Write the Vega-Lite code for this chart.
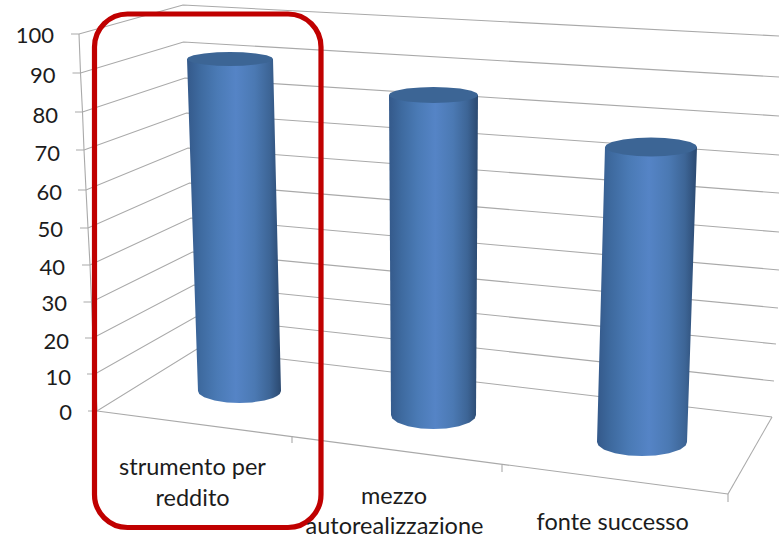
{"$schema":"https://vega.github.io/schema/vega-lite/v6.json","width":779,"height":535,"autosize":{"type":"none"},"padding":0,"background":"white","view":{"stroke":null},
"datasets":{
"walls":[
{"s":"100","x":71,"y":99.98},{"s":"100","x":79,"y":99.98},{"s":"100","x":183,"y":107.67},{"s":"100","x":779,"y":99.44},
{"s":"90","x":72.5,"y":89.62},{"s":"90","x":80.5,"y":89.62},{"s":"90","x":183.5,"y":97.85},{"s":"90","x":779,"y":88.56},
{"s":"80","x":75,"y":79.27},{"s":"80","x":82.5,"y":79.27},{"s":"80","x":185,"y":88.3},{"s":"80","x":779,"y":78.21},
{"s":"70","x":76,"y":69.19},{"s":"70","x":84,"y":69.19},{"s":"70","x":186.5,"y":79.01},{"s":"70","x":779,"y":67.86},
{"s":"60","x":78,"y":58.57},{"s":"60","x":86,"y":58.57},{"s":"60","x":188,"y":69.72},{"s":"60","x":779,"y":57.77},
{"s":"50","x":80,"y":48.48},{"s":"50","x":88,"y":48.48},{"s":"50","x":189.5,"y":60.43},{"s":"50","x":779,"y":47.42},
{"s":"40","x":82,"y":38.66},{"s":"40","x":90,"y":38.66},{"s":"40","x":191,"y":51.14},{"s":"40","x":779,"y":37.34},
{"s":"30","x":83.5,"y":28.84},{"s":"30","x":91.5,"y":28.84},{"s":"30","x":192.5,"y":42.11},{"s":"30","x":778,"y":27.25},
{"s":"20","x":85,"y":19.29},{"s":"20","x":93,"y":19.29},{"s":"20","x":194,"y":33.36},{"s":"20","x":776,"y":17.69},
{"s":"10","x":87,"y":9.73},{"s":"10","x":95,"y":9.73},{"s":"10","x":195.5,"y":24.86},{"s":"10","x":774,"y":7.87},
{"s":"0","x":88,"y":-0.09},{"s":"0","x":97,"y":-0.09},{"s":"0","x":197,"y":16.37},{"s":"0","x":772,"y":-1.68},
{"s":"edge","x":79,"y":99.98},{"s":"edge","x":80.5,"y":89.62},{"s":"edge","x":82.5,"y":79.27},{"s":"edge","x":84,"y":69.19},{"s":"edge","x":86,"y":58.57},{"s":"edge","x":88,"y":48.48},{"s":"edge","x":90,"y":38.66},{"s":"edge","x":91.5,"y":28.84},{"s":"edge","x":93,"y":19.29},{"s":"edge","x":95,"y":9.73},{"s":"edge","x":97,"y":-0.09},
{"s":"front","x":97,"y":-0.09},{"s":"front","x":728,"y":-22.12},
{"s":"side","x":728,"y":-22.12},{"s":"side","x":772,"y":-1.68},
{"s":"t1","x":292,"y":-6.72},{"s":"t1","x":292,"y":-8.58},
{"s":"t2","x":502,"y":-14.29},{"s":"t2","x":502,"y":-16.28},
{"s":"t3","x":728,"y":-22.12},{"s":"t3","x":728,"y":-24.24}
],
"bodies":[
{"b":"strumento per reddito","x":187,"y":93.34,"y2":93.34},{"b":"strumento per reddito","x":198,"y":93.34,"y2":5.22},{"b":"strumento per reddito","x":199.25,"y":93.34,"y2":4.45},{"b":"strumento per reddito","x":204.2,"y":93.34,"y2":3.55},{"b":"strumento per reddito","x":214.6,"y":93.34,"y2":2.67},{"b":"strumento per reddito","x":227,"y":93.34,"y2":2.2},{"b":"strumento per reddito","x":239.5,"y":93.34,"y2":2.04},{"b":"strumento per reddito","x":252,"y":93.34,"y2":2.2},{"b":"strumento per reddito","x":264.4,"y":93.34,"y2":2.67},{"b":"strumento per reddito","x":273,"y":93.34,"y2":3.34},{"b":"strumento per reddito","x":277,"y":49.28,"y2":3.87},{"b":"strumento per reddito","x":279.75,"y":19.02,"y2":4.45},{"b":"strumento per reddito","x":281,"y":5.22,"y2":5.22},
{"b":"mezzo autorealizzazione","x":389,"y":83.79,"y2":83.79},{"b":"mezzo autorealizzazione","x":391,"y":83.79,"y2":-1.15},{"b":"mezzo autorealizzazione","x":392.3,"y":83.79,"y2":-2.05},{"b":"mezzo autorealizzazione","x":397.4,"y":83.79,"y2":-3.11},{"b":"mezzo autorealizzazione","x":408,"y":83.79,"y2":-4.12},{"b":"mezzo autorealizzazione","x":420.8,"y":83.79,"y2":-4.71},{"b":"mezzo autorealizzazione","x":433.5,"y":83.79,"y2":-4.87},{"b":"mezzo autorealizzazione","x":446.2,"y":83.79,"y2":-4.71},{"b":"mezzo autorealizzazione","x":459,"y":83.79,"y2":-4.12},{"b":"mezzo autorealizzazione","x":469.6,"y":83.79,"y2":-3.11},{"b":"mezzo autorealizzazione","x":474.7,"y":83.79,"y2":-2.05},{"b":"mezzo autorealizzazione","x":476,"y":83.79,"y2":-1.15},{"b":"mezzo autorealizzazione","x":478,"y":83.79,"y2":83.79},
{"b":"fonte successo","x":597,"y":-8.32,"y2":-8.32},{"b":"fonte successo","x":598.4,"y":5.38,"y2":-9.22},{"b":"fonte successo","x":603.8,"y":58.24,"y2":-10.28},{"b":"fonte successo","x":605,"y":69.98,"y2":-10.44},{"b":"fonte successo","x":615,"y":69.98,"y2":-11.29},{"b":"fonte successo","x":628.5,"y":69.98,"y2":-11.87},{"b":"fonte successo","x":642,"y":69.98,"y2":-12.03},{"b":"fonte successo","x":655.5,"y":69.98,"y2":-11.87},{"b":"fonte successo","x":669,"y":69.98,"y2":-11.29},{"b":"fonte successo","x":680.3,"y":69.98,"y2":-10.28},{"b":"fonte successo","x":685.7,"y":69.98,"y2":-9.22},{"b":"fonte successo","x":687,"y":69.98,"y2":-8.32},{"b":"fonte successo","x":697,"y":69.98,"y2":69.98}
],
"caps":[
{"b":"strumento per reddito","x":187,"y":93.34,"y2":93.34},{"b":"strumento per reddito","x":188.3,"y":93.79,"y2":92.89},{"b":"strumento per reddito","x":193.5,"y":94.32,"y2":92.36},{"b":"strumento per reddito","x":204.2,"y":94.83,"y2":91.85},{"b":"strumento per reddito","x":217.1,"y":95.12,"y2":91.56},{"b":"strumento per reddito","x":230,"y":95.2,"y2":91.48},{"b":"strumento per reddito","x":242.9,"y":95.12,"y2":91.56},{"b":"strumento per reddito","x":255.8,"y":94.83,"y2":91.85},{"b":"strumento per reddito","x":266.6,"y":94.32,"y2":92.36},{"b":"strumento per reddito","x":271.7,"y":93.79,"y2":92.89},{"b":"strumento per reddito","x":273,"y":93.34,"y2":93.34},
{"b":"mezzo autorealizzazione","x":389,"y":83.79,"y2":83.79},{"b":"mezzo autorealizzazione","x":390.3,"y":84.29,"y2":83.28},{"b":"mezzo autorealizzazione","x":395.7,"y":84.9,"y2":82.67},{"b":"mezzo autorealizzazione","x":406.8,"y":85.48,"y2":82.09},{"b":"mezzo autorealizzazione","x":420.2,"y":85.8,"y2":81.77},{"b":"mezzo autorealizzazione","x":433.5,"y":85.91,"y2":81.66},{"b":"mezzo autorealizzazione","x":446.9,"y":85.8,"y2":81.77},{"b":"mezzo autorealizzazione","x":460.2,"y":85.48,"y2":82.09},{"b":"mezzo autorealizzazione","x":471.3,"y":84.9,"y2":82.67},{"b":"mezzo autorealizzazione","x":476.7,"y":84.29,"y2":83.28},{"b":"mezzo autorealizzazione","x":478,"y":83.79,"y2":83.79},
{"b":"fonte successo","x":605,"y":69.98,"y2":69.98},{"b":"fonte successo","x":606.4,"y":70.59,"y2":69.37},{"b":"fonte successo","x":611.9,"y":71.31,"y2":68.66},{"b":"fonte successo","x":623.4,"y":72.0,"y2":67.97},{"b":"fonte successo","x":637.2,"y":72.4,"y2":67.57},{"b":"fonte successo","x":651,"y":72.5,"y2":67.46},{"b":"fonte successo","x":664.8,"y":72.4,"y2":67.57},{"b":"fonte successo","x":678.6,"y":72.0,"y2":67.97},{"b":"fonte successo","x":690.1,"y":71.31,"y2":68.66},{"b":"fonte successo","x":695.6,"y":70.59,"y2":69.37},{"b":"fonte successo","x":697,"y":69.98,"y2":69.98}
],
"ticklabels":[
{"t":"100","x":54,"y":99.71},{"t":"90","x":55.5,"y":89.09},{"t":"80","x":58,"y":78.48},{"t":"70","x":60,"y":68.39},{"t":"60","x":62,"y":58.04},{"t":"50","x":63,"y":48.22},{"t":"40","x":65,"y":38.13},{"t":"30","x":67,"y":28.58},{"t":"20","x":69,"y":18.49},{"t":"10","x":71,"y":8.94},{"t":"0","x":72,"y":-0.35}
],
"catlabels":[
{"t":"strumento per","x":192.5,"y":-14.95},{"t":"reddito","x":192.5,"y":-23.18},{"t":"mezzo","x":394,"y":-22.65},{"t":"autorealizzazione","x":394.5,"y":-30.61},{"t":"fonte successo","x":612.7,"y":-29.55}
]},
"encoding":{
"x":{"field":"x","type":"quantitative","scale":{"domain":[0,779],"nice":false,"zero":false},"axis":null},
"y":{"field":"y","type":"quantitative","scale":{"domain":[-33,109],"nice":false,"zero":false},"axis":null}
},
"layer":[
{"data":{"name":"walls"},"mark":{"type":"line","color":"#a9a9a9","strokeWidth":1.1,"clip":true},"encoding":{"detail":{"field":"s"}}},
{"data":{"name":"bodies"},"mark":{"type":"area","line":false,"color":{"gradient":"linear","x1":0,"y1":0,"x2":1,"y2":0,"stops":[{"offset":0,"color":"#34598a"},{"offset":0.14,"color":"#3e6a9f"},{"offset":0.32,"color":"#4a7ab5"},{"offset":0.52,"color":"#5584c6"},{"offset":0.72,"color":"#4b79b3"},{"offset":0.88,"color":"#3d6596"},{"offset":1,"color":"#2b4970"}]}},"encoding":{"detail":{"field":"b"},"y2":{"field":"y2"}}},
{"data":{"name":"caps"},"mark":{"type":"area","color":"#3c6595"},"encoding":{"detail":{"field":"b"},"y2":{"field":"y2"}}},
{"data":{"values":[{"x":94.5,"x2":321,"y":105.28,"y2":-31.01}]},"mark":{"type":"rect","filled":false,"stroke":"#c00000","strokeWidth":5.2,"cornerRadius":33},"encoding":{"x2":{"field":"x2"},"y2":{"field":"y2"}}},
{"data":{"name":"ticklabels"},"mark":{"type":"text","align":"right","baseline":"middle","dy":1,"font":"Lato","fontSize":22,"color":"#1c1c1c"},"encoding":{"text":{"field":"t"}}},
{"data":{"name":"catlabels"},"mark":{"type":"text","align":"center","baseline":"middle","dy":1,"font":"Lato","fontSize":23.5,"color":"#1c1c1c"},"encoding":{"text":{"field":"t"}}}
]}
